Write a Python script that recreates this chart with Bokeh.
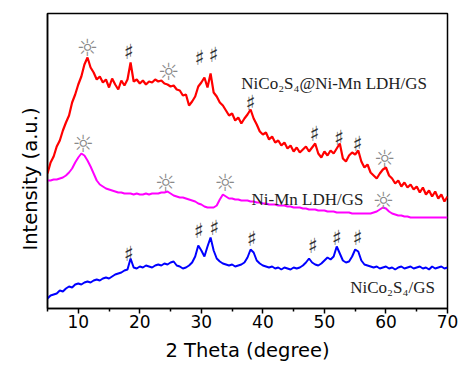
import numpy as np
from bokeh.plotting import figure
from bokeh.models import ColumnDataSource, FixedTicker, Range1d, Title
from bokeh.core.properties import value
from bokeh.embed import file_html
from bokeh.resources import INLINE

# 2-theta sampling grid (degree)
two_theta = np.arange(5.0, 70.001, 0.5)

# NiCo2S4@Ni-Mn LDH/GS (red), arbitrary units
red_y = [135, 146, 152, 162, 168, 178, 186, 193, 206, 214,
         224, 232, 244, 251, 241, 236, 229, 232, 226, 229,
         221, 230, 224, 219, 228, 223, 229, 246, 227, 229,
         225, 228, 224, 227, 226, 229, 227, 228, 225, 224,
         222, 223, 219, 218, 213, 214, 203, 207, 212, 222,
         226, 231, 221, 235, 216, 212, 206, 203, 198, 193,
         195, 188, 191, 185, 190, 194, 199, 190, 184, 177,
         174, 176, 169, 172, 166, 168, 163, 166, 160, 163,
         157, 161, 156, 159, 162, 157, 161, 165, 155, 151,
         157, 153, 158, 155, 160, 165, 150, 147, 153, 156,
         154, 158, 147, 141, 144, 136, 133, 130, 135, 139,
         141, 133, 130, 125, 128, 122, 126, 121, 124, 119,
         122, 116, 121, 114, 118, 112, 117, 110, 114, 107,
         112]

# Ni-Mn LDH/GS (magenta)
magenta_y = [128, 128, 129, 129, 130, 131, 133, 136, 140, 146,
             151, 155, 153, 148, 142, 135, 128, 124, 122, 120,
             119, 118, 117, 116, 116, 115, 115, 115, 114, 115,
             114, 114, 115, 114, 115, 115, 115, 116, 116, 117,
             115, 113, 112, 111, 111, 110, 109, 108, 107, 105,
             104, 102, 101, 101, 101, 103, 109, 114, 112, 110,
             110, 109, 109, 108, 108, 108, 107, 107, 106, 106,
             105, 105, 104, 104, 104, 103, 103, 103, 102, 102,
             101, 101, 101, 100, 100, 99, 99, 99, 98, 98,
             98, 97, 97, 97, 96, 96, 96, 96, 96, 95,
             95, 95, 95, 95, 95, 95, 96, 97, 99, 101,
             100, 97, 95, 94, 93, 93, 92, 92, 91, 91,
             91, 91, 91, 91, 91, 91, 91, 91, 91, 91,
             91]

# NiCo2S4/GS (blue)
blue_y = [10, 13, 14, 15, 18, 17, 20, 22, 21, 24,
          25, 24, 26, 27, 26, 28, 29, 28, 30, 31,
          30, 32, 34, 35, 36, 38, 39, 50, 41, 40,
          42, 41, 43, 42, 41, 43, 44, 43, 45, 44,
          46, 47, 43, 42, 40, 41, 43, 46, 52, 63,
          58, 52, 62, 71, 58, 50, 47, 45, 44, 43,
          44, 42, 43, 44, 46, 51, 59, 56, 48, 45,
          43, 42, 41, 42, 40, 41, 39, 41, 40, 39,
          41, 40, 41, 43, 46, 50, 46, 44, 43, 45,
          48, 51, 49, 52, 62, 55, 48, 46, 47, 52,
          59, 57, 48, 44, 43, 42, 41, 42, 40, 41,
          42, 40, 41, 39, 41, 42, 40, 41, 42, 40,
          41, 42, 40, 41, 39, 42, 40, 41, 42, 40,
          41]

# peak markers
sun_x = [11.5, 24.7, 59.8, 10.8, 24.2, 33.9, 59.6]
sun_y = [261, 237, 150, 165, 126, 126, 108]
sharp_x = [18.2, 29.7, 32.0, 38.0, 48.4, 52.4, 55.4,
           18.2, 29.6, 32.1, 38.2, 48.1, 52.0, 55.4]
sharp_y = [257, 251, 254, 206, 175, 171, 165,
           55, 78, 81, 70, 63, 71, 71]

# curve labels
label_text = ["NiCo\u2082S\u2084@Ni-Mn LDH/GS", "Ni-Mn LDH/GS", "NiCo\u2082S\u2084/GS"]
label_x = [36.5, 38.15, 54.2]
label_y = [225, 109, 21]

x_ticks = [10, 20, 30, 40, 50, 60, 70]
x_minor = [5, 15, 25, 35, 45, 55, 65]

p = figure(width=459, height=366, output_backend="svg", toolbar_location=None,
           x_range=Range1d(5, 70), y_range=Range1d(0, 295),
           min_border_left=47, min_border_right=12, min_border_top=13, min_border_bottom=58)
p.background_fill_color = "white"
p.border_fill_color = "white"
p.grid.visible = False
p.outline_line_color = "black"
p.outline_line_width = 1.5

p.line(two_theta, red_y, color="#FF0000", line_width=2.2)
p.line(two_theta, magenta_y, color="#FF00FF", line_width=2)
p.line(two_theta, blue_y, color="#0000FF", line_width=2)

sun_src = ColumnDataSource(dict(x=sun_x, y=sun_y, t=["\u263C"] * len(sun_x)))
p.text(x="x", y="y", text="t", source=sun_src, text_align="center", text_baseline="middle",
       text_font=value("DejaVu Sans"), text_font_size="24px", text_color="#8a8a8a")
sharp_src = ColumnDataSource(dict(x=sharp_x, y=sharp_y, t=["\u266F"] * len(sharp_x)))
p.text(x="x", y="y", text="t", source=sharp_src, text_align="center", text_baseline="middle",
       text_font=value("DejaVu Sans"), text_font_size="21px", text_color="#333333")
lab_src = ColumnDataSource(dict(x=label_x, y=label_y, t=label_text))
p.text(x="x", y="y", text="t", source=lab_src, text_align="left", text_baseline="middle",
       text_font=value("Liberation Serif"), text_font_size="17px", text_color="#222222")

xa = p.xaxis[0]
xa.ticker = FixedTicker(ticks=x_ticks, minor_ticks=x_minor)
xa.axis_label = "2 Theta (degree)"
xa.axis_label_text_font = "DejaVu Sans"
xa.axis_label_text_font_size = "19.5px"
xa.axis_label_text_font_style = "normal"
xa.axis_label_text_color = "black"
xa.axis_label_standoff = 8
xa.major_label_text_font = "DejaVu Sans"
xa.major_label_text_font_size = "17px"
xa.major_label_text_color = "black"
xa.major_label_standoff = 1
xa.axis_line_width = 1.5
xa.major_tick_line_width = 1.5
xa.minor_tick_line_width = 1.5
xa.major_tick_out = 5
xa.major_tick_in = 0
xa.minor_tick_out = 3
xa.minor_tick_in = 0

ya = p.yaxis[0]
ya.ticker = FixedTicker(ticks=[], minor_ticks=[])
ya.major_tick_line_color = None
ya.minor_tick_line_color = None
ya.axis_line_width = 1.5

ytitle = Title(text="Intensity (a.u.)", align="left", offset=58,
               text_font="DejaVu Sans", text_font_size="19.5px",
               text_font_style="normal", text_color="black", standoff=12)
p.add_layout(ytitle, "left")

open("out.html", "w").write(file_html(p, INLINE))
